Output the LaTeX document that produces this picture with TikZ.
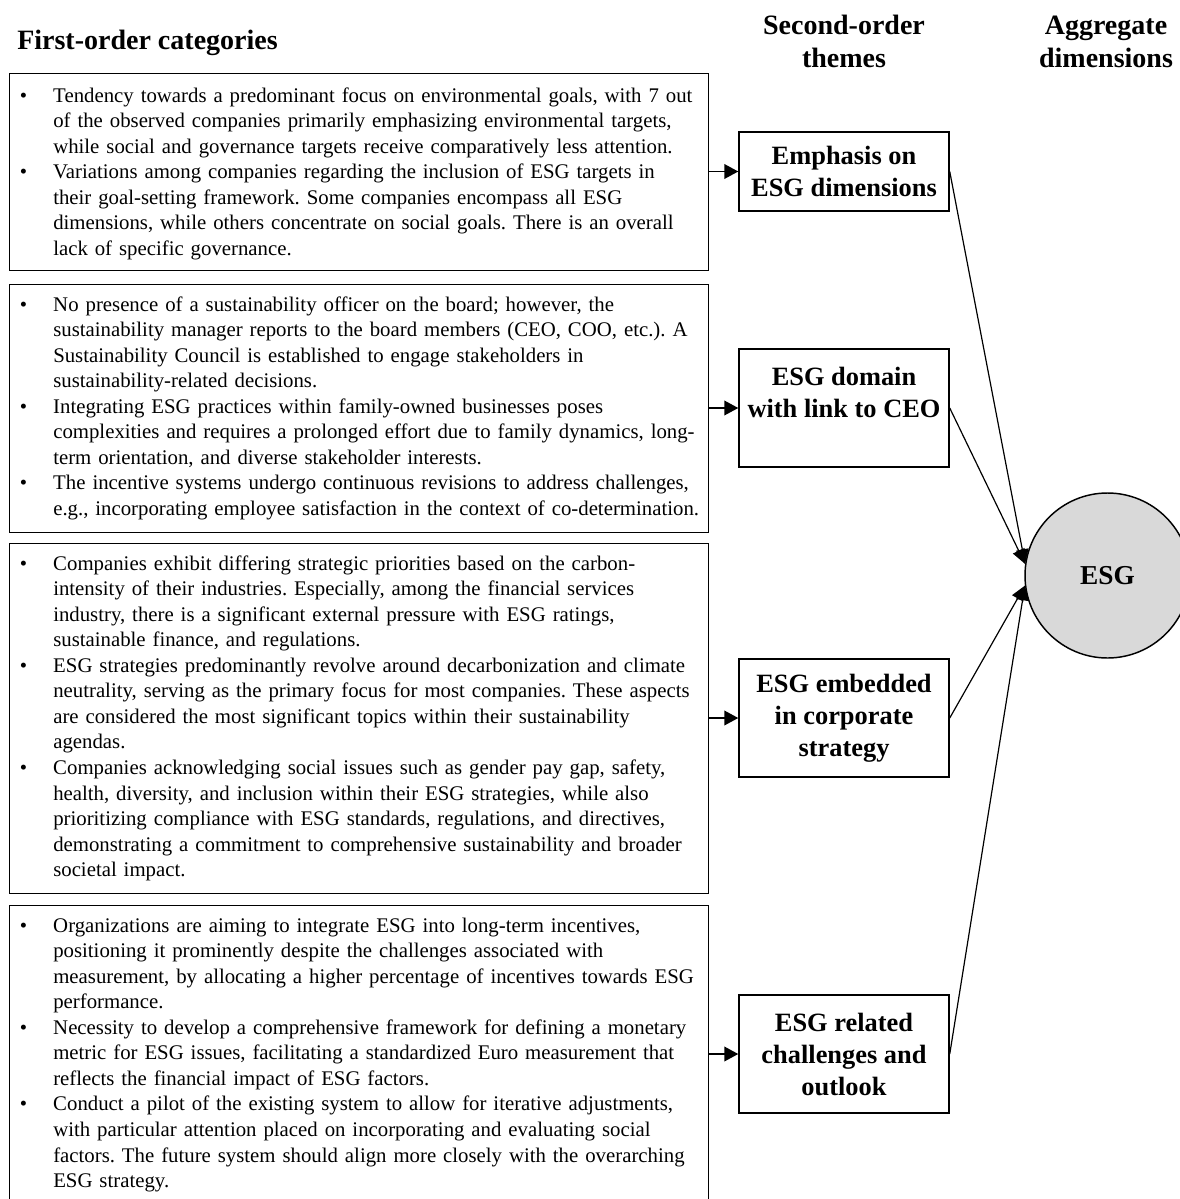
\documentclass[tikz,border=0pt]{standalone}
\usepackage{fontspec}
\setmainfont{Liberation Serif}
\usetikzlibrary{arrows.meta}
\newcommand{\bul}{\leavevmode\llap{\textbullet\hspace{19.5pt}}}
\frenchspacing
\begin{document}
\begin{tikzpicture}[x=0.75pt,y=-0.75pt,
  body/.style={anchor=base west, inner sep=0pt, text width=530pt, align=left,
    font=\fontsize{15.6}{19.17}\selectfont\frenchspacing},
  catbox/.style={draw, line width=1.1pt, anchor=north west, minimum width=524.25pt, inner sep=0pt},
  theme/.style={draw, line width=1.1pt, minimum width=157.5pt, minimum height=88.5pt,
    inner sep=0pt, align=center, font=\fontsize{19.8}{24}\selectfont\bfseries},
  head/.style={align=center, inner sep=0pt, font=\fontsize{21}{24.75}\selectfont\bfseries},
  shortarr/.style={-{Triangle[length=10.5pt,width=11pt]}, line width=1.3pt},
  longarr/.style={-{Triangle[length=11pt,width=9.5pt]}, line width=0.9pt}
]
\useasboundingbox (0,0) rectangle (1180,1199);
\begin{scope}
\clip (0,0) rectangle (1180,1199);

% headings
\node[head, anchor=west] (h1) at (17,42.5) {First-order categories};
\node[head] (h2) at (844,41.5) {Second-order\\themes};
\node[head] (h3) at (1106,41.5) {Aggregate\\dimensions};

% first-order category boxes
\node[catbox, minimum height=147.75pt] (c1) at (9,73) {};
\node[catbox, minimum height=186pt] (c2) at (9,284) {};
\node[catbox, minimum height=262.5pt] (c3) at (9,543) {};
\node[catbox, minimum height=230pt] (c4) at (9,905) {};

\node[body] (x1) at (53,102) {\bul Tendency towards a predominant focus on environmental goals, with 7 out\\
of the observed companies primarily emphasizing environmental targets,\\
while social and governance targets receive comparatively less attention.\\
\bul Variations among companies regarding the inclusion of ESG targets in\\
their goal-setting framework. Some companies encompass all ESG\\
dimensions, while others concentrate on social goals. There is an overall\\
lack of specific governance.};

\node[body] (x2) at (53,311) {\bul No presence of a sustainability officer on the board; however, the\\
sustainability manager reports to the board members (CEO, COO, etc.). A\\
Sustainability Council is established to engage stakeholders in\\
sustainability-related decisions.\\
\bul Integrating ESG practices within family-owned businesses poses\\
complexities and requires a prolonged effort due to family dynamics, long-\\
term orientation, and diverse stakeholder interests.\\
\bul The incentive systems undergo continuous revisions to address challenges,\\
e.g., incorporating employee satisfaction in the context of co-determination.};

\node[body] (x3) at (53,570) {\bul Companies exhibit differing strategic priorities based on the carbon-\\
intensity of their industries. Especially, among the financial services\\
industry, there is a significant external pressure with ESG ratings,\\
sustainable finance, and regulations.\\
\bul ESG strategies predominantly revolve around decarbonization and climate\\
neutrality, serving as the primary focus for most companies. These aspects\\
are considered the most significant topics within their sustainability\\
agendas.\\
\bul Companies acknowledging social issues such as gender pay gap, safety,\\
health, diversity, and inclusion within their ESG strategies, while also\\
prioritizing compliance with ESG standards, regulations, and directives,\\
demonstrating a commitment to comprehensive sustainability and broader\\
societal impact.};

\node[body] (x4) at (53,932) {\bul Organizations are aiming to integrate ESG into long-term incentives,\\
positioning it prominently despite the challenges associated with\\
measurement, by allocating a higher percentage of incentives towards ESG\\
performance.\\
\bul Necessity to develop a comprehensive framework for defining a monetary\\
metric for ESG issues, facilitating a standardized Euro measurement that\\
reflects the financial impact of ESG factors.\\
\bul Conduct a pilot of the existing system to allow for iterative adjustments,\\
with particular attention placed on incorporating and evaluating social\\
factors. The future system should align more closely with the overarching\\
ESG strategy.};

% second-order themes
\node[theme, minimum height=59.25pt] (t1) at (844,171.5) {Emphasis on\\ESG dimensions};
\node[theme] (t2) at (844,408) {ESG domain\\with link to CEO\\\mbox{}};
\node[theme] (t3) at (844,718) {ESG embedded\\in corporate\\strategy};
\node[theme] (t4) at (844,1054) {ESG related\\challenges and\\outlook};

% aggregate dimension
\node[circle, draw, line width=1.1pt, fill={rgb,255:red,217;green,217;blue,217},
  minimum size=123.75pt, inner sep=0pt, font=\fontsize{20.5}{24}\selectfont\bfseries] (esg) at (1107.5,575.5) {ESG};

% connectors
\draw[shortarr] (c1.east |- t1.west) -- (t1.west);
\draw[shortarr] (c2.east |- t2.west) -- (t2.west);
\draw[shortarr] (c3.east |- t3.west) -- (t3.west);
\draw[shortarr] (c4.east |- t4.west) -- (t4.west);

\draw[longarr] (t1.east) -- (esg.172);
\draw[longarr] (t2.east) -- (esg.172);
\draw[longarr] (t3.east) -- (esg.187);
\draw[longarr] (t4.east) -- (esg.187);
\end{scope}
\end{tikzpicture}
\end{document}
